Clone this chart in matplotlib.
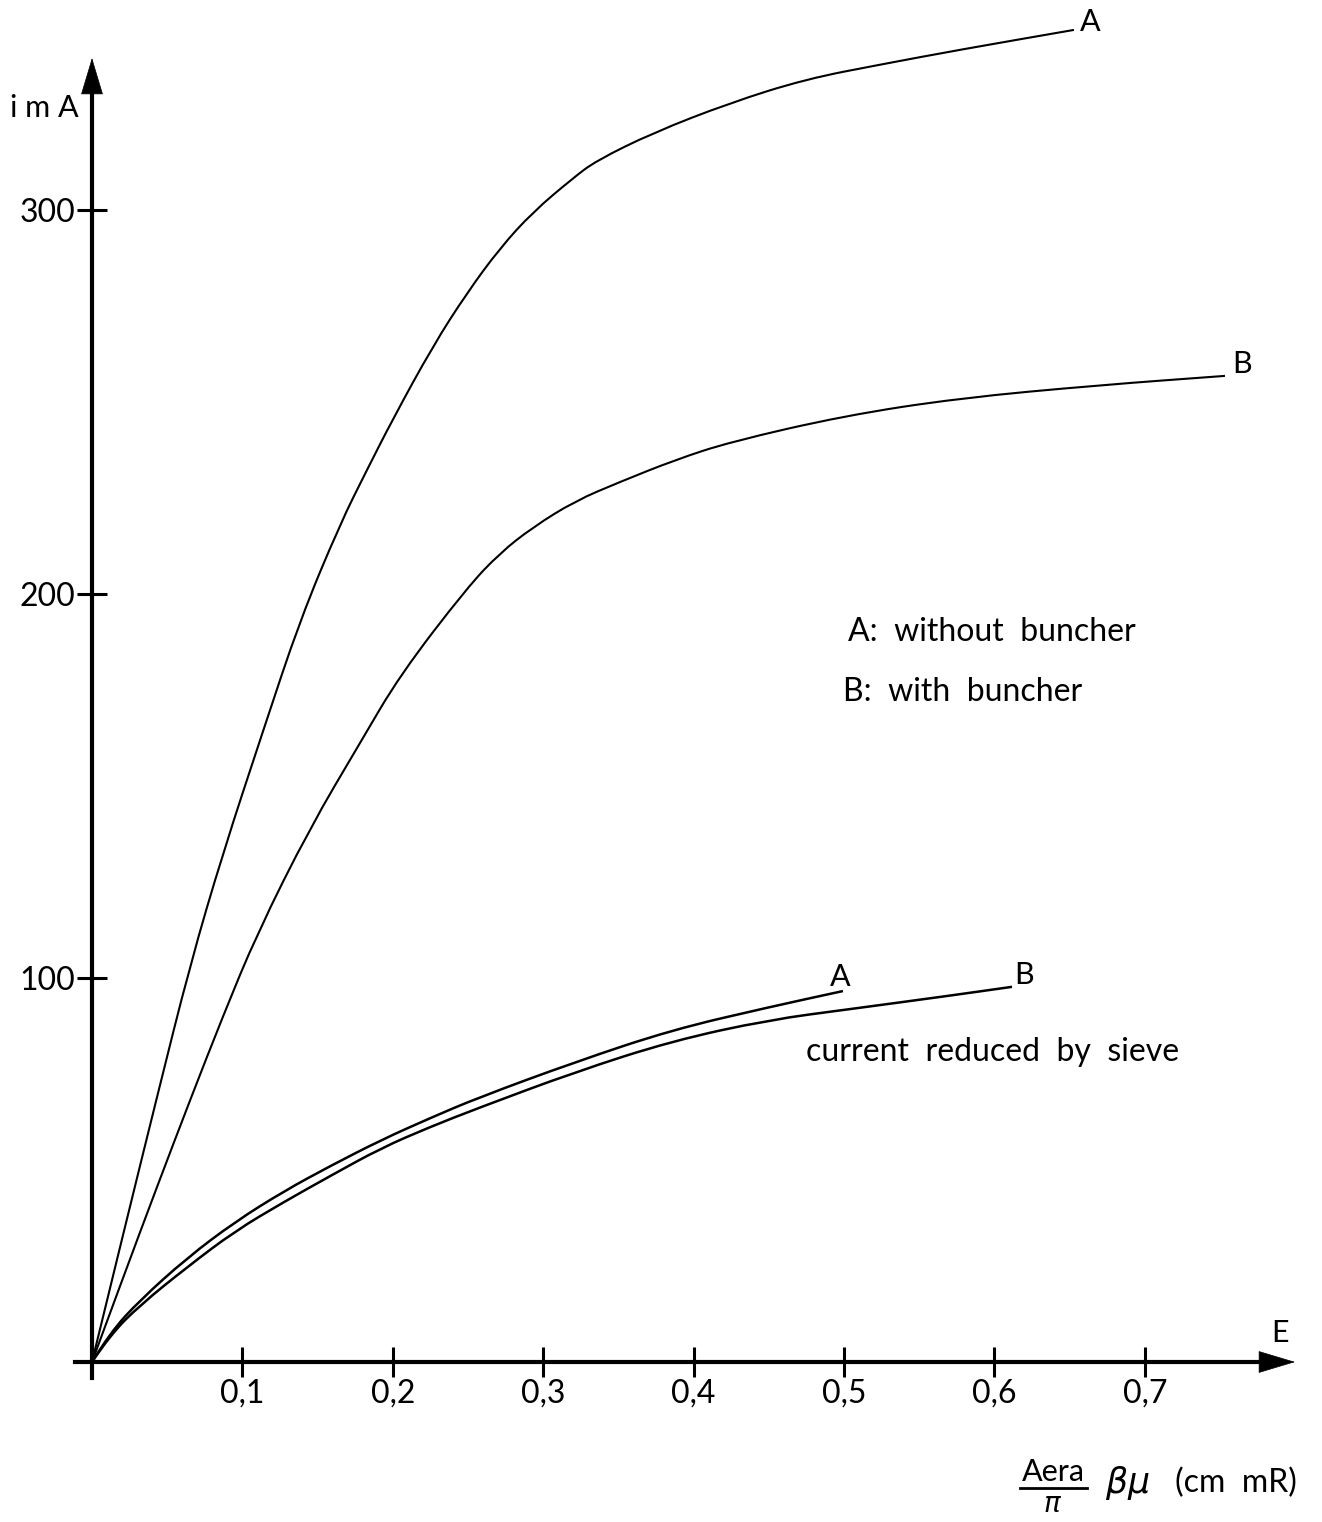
import matplotlib.pyplot as plt
from matplotlib.lines import Line2D
from matplotlib.path import Path
from matplotlib.patches import PathPatch

plt.rcParams['font.family'] = ['Lato', 'DejaVu Sans']
plt.rcParams['mathtext.fontset'] = 'dejavusans'

# curve A: without buncher
a_x = [0, 0.0206, 0.0432, 0.0652, 0.0871, 0.1137, 0.1383, 0.1649, 0.1828, 0.2001, 0.2267,
       0.2493, 0.2713, 0.2932, 0.3198, 0.3351, 0.3730, 0.4242, 0.4747, 0.5259, 0.5765,
       0.6529]
a_y = [0, 33.1, 69.0, 103.4, 132.6, 164.3, 193.2, 218.2, 232.3, 245.6, 264.6,
       278.4, 290.1, 299.5, 308.3, 312.8, 320.1, 327.9, 334.1, 338.0, 341.7,
       346.9]

# curve B: with buncher
b_x = [0, 0.0206, 0.0432, 0.0652, 0.0871, 0.1097, 0.1449, 0.1782, 0.2048, 0.2493, 0.2713,
       0.2932, 0.3211, 0.3511, 0.3876, 0.4242, 0.5000, 0.5765, 0.6702, 0.7533]
b_y = [0, 21.9, 45.6, 68.2, 90.1, 111.5, 139.1, 161.2, 178.9, 201.6, 210.7,
       217.4, 224.2, 229.2, 234.9, 239.6, 246.4, 251.0, 254.4, 256.8]

# current reduced by sieve
sa_x = [0, 0.0120, 0.0319, 0.0632, 0.0951, 0.1277, 0.1582, 0.1922, 0.2247, 0.2566, 0.3211,
        0.3856, 0.4501, 0.4993]
sa_y = [0, 7.6, 16.1, 27.1, 36.5, 44.5, 51.0, 57.8, 63.5, 68.8, 78.1,
        86.5, 92.4, 96.6]
sb_x = [0, 0.0120, 0.0319, 0.0632, 0.0951, 0.1277, 0.1582, 0.1922, 0.2247, 0.2566, 0.3211,
        0.3856, 0.4501, 0.5040, 0.5685, 0.6117]
sb_y = [0, 7.0, 14.8, 24.7, 34.1, 41.7, 48.4, 55.7, 61.2, 66.1, 75.5,
        83.6, 89.1, 91.9, 95.3, 97.7]

x_ticks = [0.1, 0.2, 0.3, 0.4, 0.5, 0.6, 0.7]
x_ticklabels = ['0,1', '0,2', '0,3', '0,4', '0,5', '0,6', '0,7']
y_ticks = [100, 200, 300]
y_ticklabels = ['100', '200', '300']

W, H = 1322, 1522
fig = plt.figure(figsize=(W / 100, H / 100), dpi=100)
ax = fig.add_axes([0, 0, 1, 1])
ax.set_xlim(-92 / 1504, (W - 92) / 1504)
ax.set_ylim(-(H - 1362) / 3.84, 1362 / 3.84)


def smooth_curve(ax, xs, ys, lw):
    # draw through the read points with quadratic bezier joins (no corners)
    verts = [(xs[0], ys[0])]
    codes = [Path.MOVETO]
    for i in range(1, len(xs) - 1):
        mid = ((xs[i] + xs[i + 1]) / 2, (ys[i] + ys[i + 1]) / 2)
        verts += [(xs[i], ys[i]), mid]
        codes += [Path.CURVE3, Path.CURVE3]
    verts.append((xs[-1], ys[-1]))
    codes.append(Path.LINETO)
    ax.add_patch(PathPatch(Path(verts, codes), fill=False, edgecolor='black', lw=lw,
                           capstyle='butt', joinstyle='round'))


smooth_curve(ax, a_x, a_y, 1.5)
smooth_curve(ax, b_x, b_y, 1.5)
smooth_curve(ax, sa_x, sa_y, 1.8)
smooth_curve(ax, sb_x, sb_y, 1.8)

# curve end labels
fs = 22
ax.annotate('A', xy=(a_x[-1], a_y[-1]), xytext=(6, 8), textcoords='offset pixels',
            ha='left', va='center', fontsize=fs)
ax.annotate('B', xy=(b_x[-1], b_y[-1]), xytext=(7, 12), textcoords='offset pixels',
            ha='left', va='center', fontsize=fs)
ax.annotate('A', xy=(sa_x[-1], sa_y[-1]), xytext=(-3, 14), textcoords='offset pixels',
            ha='center', va='center', fontsize=fs)
ax.annotate('B', xy=(sb_x[-1], sb_y[-1]), xytext=(12, 12), textcoords='offset pixels',
            ha='center', va='center', fontsize=fs)

# axes through the origin
for s in ['top', 'right']:
    ax.spines[s].set_visible(False)
ax.spines['left'].set_position(('data', 0))
ax.spines['bottom'].set_position(('data', 0))
ax.spines['left'].set_linewidth(3)
ax.spines['bottom'].set_linewidth(3)
ax.spines['left'].set_bounds(-16 / 3.84, 331)
ax.spines['bottom'].set_bounds(-17 / 1504, 0.782)

ax.set_xticks(x_ticks)
ax.set_xticklabels(x_ticklabels)
ax.set_yticks(y_ticks)
ax.set_yticklabels(y_ticklabels)
ax.tick_params(axis='both', direction='inout', length=22, width=2.2, labelsize=23)
ax.tick_params(axis='x', pad=1)
ax.tick_params(axis='y', pad=1)

arrow = dict(arrowstyle='-|>,head_length=2.5,head_width=0.75', mutation_scale=10,
             fc='black', ec='black', lw=0.5, shrinkA=0, shrinkB=0)
ax.annotate('', xy=(0, 339.6), xytext=(0, 329), arrowprops=arrow)
ax.annotate('', xy=(0.7999, 0), xytext=(0.775, 0), arrowprops=arrow)

# free text
def put(px, py, s, **kw):
    fig.text(px / W, 1 - py / H, s, va='center', **kw)

put(10, 108, 'i m A', fontsize=fs, ha='left')
put(1280, 1333, 'E', fontsize=fs, ha='center')
put(848, 632, 'A:  without  buncher', fontsize=fs + 1, ha='left')
put(843, 692, 'B:  with  buncher', fontsize=fs + 1, ha='left')
put(806, 1052, 'current  reduced  by  sieve', fontsize=fs + 1, ha='left')

put(1053, 1472, 'Aera', fontsize=fs, ha='center')
fig.add_artist(Line2D([1020 / W, 1087 / W], [1 - 1488 / H, 1 - 1488 / H], color='black', lw=2))
put(1053, 1504, r'$\pi$', fontsize=fs - 2, ha='center', fontweight='bold')
put(1105, 1483, r'$\beta\mu$', fontsize=fs + 3, ha='left')
put(1175, 1483, '(cm  mR)', fontsize=fs + 1, ha='left')

fig.savefig('out.png', dpi=100)
